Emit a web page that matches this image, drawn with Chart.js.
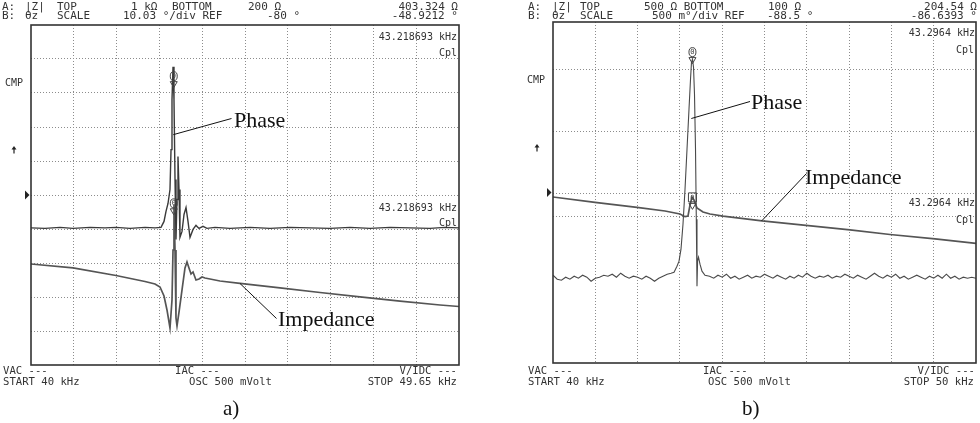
<!DOCTYPE html>
<html>
<head>
<meta charset="utf-8">
<script src="https://cdn.jsdelivr.net/npm/chart.js@4.4.1/dist/chart.umd.min.js"></script>
<style>
  body { margin: 0; background: #fff; }
  #screen { position: relative; width: 980px; height: 423px; overflow: hidden; }
  canvas { position: absolute; top: 0; }
  .h, .f, .r { position: absolute; font-family: "DejaVu Sans Mono", monospace; color: #333; white-space: pre; }
  .h { font-size: 11px; line-height: 11px; }
  .f { font-size: 10.6px; line-height: 10.6px; }
  .r { font-size: 10px; line-height: 10px; }
  .lbl { position: absolute; font-family: "Liberation Serif", serif; font-size: 22px; line-height: 22px; color: #111; white-space: pre; }
  .cap { position: absolute; font-family: "Liberation Serif", serif; font-size: 21px; line-height: 21px; color: #111; }
</style>
</head>
<body>
<div id="screen">
  <canvas id="chartA" width="490" height="423" style="left:0"></canvas>
  <canvas id="chartB" width="490" height="423" style="left:490px"></canvas>

  <!-- a) -->
  <span class="h" style="left:2px;top:1px">A:</span>
  <span class="h" style="left:25px;top:1px">|Z|</span>
  <span class="h" style="left:57px;top:1px">TOP</span>
  <span class="h" style="left:131px;top:1px">1 kΩ</span>
  <span class="h" style="left:172px;top:1px">BOTTOM</span>
  <span class="h" style="left:248px;top:1px">200 Ω</span>
  <span class="h" style="right:522px;top:1px">403.324 Ω</span>
  <span class="h" style="left:2px;top:10px">B:</span>
  <span class="h" style="left:25px;top:10px">θz</span>
  <span class="h" style="left:57px;top:10px">SCALE</span>
  <span class="h" style="left:123px;top:10px">10.03 °/div REF</span>
  <span class="h" style="left:267px;top:10px">-80 °</span>
  <span class="h" style="right:522px;top:10px">-48.9212 °</span>
  <span class="r" style="right:523px;top:32px">43.218693 kHz</span>
  <span class="r" style="right:523px;top:48px">Cpl</span>
  <span class="r" style="right:523px;top:203px">43.218693 kHz</span>
  <span class="r" style="right:523px;top:218px">Cpl</span>
  <span class="r" style="left:5px;top:78px">CMP</span>
  <span class="f" style="left:3px;top:365px">VAC ---</span>
  <span class="f" style="left:3px;top:376px">START 40 kHz</span>
  <span class="f" style="left:175px;top:365px">IAC ---</span>
  <span class="f" style="left:189px;top:376px">OSC 500 mVolt</span>
  <span class="f" style="right:523px;top:365px">V/IDC ---</span>
  <span class="f" style="right:523px;top:376px">STOP 49.65 kHz</span>
  <span class="lbl" style="left:234px;top:109px">Phase</span>
  <span class="lbl" style="left:278px;top:308px">Impedance</span>
  <span class="cap" style="left:223px;top:398px">a)</span>

  <!-- b) -->
  <span class="h" style="left:528px;top:1px">A:</span>
  <span class="h" style="left:552px;top:1px">|Z|</span>
  <span class="h" style="left:580px;top:1px">TOP</span>
  <span class="h" style="left:644px;top:1px">500 Ω BOTTOM</span>
  <span class="h" style="left:768px;top:1px">100 Ω</span>
  <span class="h" style="right:3px;top:1px">204.54 Ω</span>
  <span class="h" style="left:528px;top:10px">B:</span>
  <span class="h" style="left:552px;top:10px">θz</span>
  <span class="h" style="left:580px;top:10px">SCALE</span>
  <span class="h" style="left:652px;top:10px">500 m°/div REF</span>
  <span class="h" style="left:767px;top:10px">-88.5 °</span>
  <span class="h" style="right:3px;top:10px">-86.6393 °</span>
  <span class="r" style="right:5px;top:28px">43.2964 kHz</span>
  <span class="r" style="right:6px;top:45px">Cpl</span>
  <span class="r" style="right:5px;top:198px">43.2964 kHz</span>
  <span class="r" style="right:6px;top:215px">Cpl</span>
  <span class="r" style="left:527px;top:75px">CMP</span>
  <span class="f" style="left:528px;top:365px">VAC ---</span>
  <span class="f" style="left:528px;top:376px">START 40 kHz</span>
  <span class="f" style="left:703px;top:365px">IAC ---</span>
  <span class="f" style="left:708px;top:376px">OSC 500 mVolt</span>
  <span class="f" style="right:5px;top:365px">V/IDC ---</span>
  <span class="f" style="right:6px;top:376px">STOP 50 kHz</span>
  <span class="lbl" style="left:751px;top:91px">Phase</span>
  <span class="lbl" style="left:805px;top:166px">Impedance</span>
  <span class="cap" style="left:742px;top:398px">b)</span>
</div>

<script>
// a) sweep 40 - 49.65 kHz, phase (deg) and |Z| (ohm)
const freqPhaseA = [40.000, 40.316, 40.654, 40.947, 41.330, 41.668, 41.916, 42.232, 42.570, 42.796,
  42.931, 42.999, 43.044, 43.089, 43.134, 43.157, 43.179, 43.202, 43.224, 43.247,
  43.269, 43.292, 43.314, 43.337, 43.359, 43.405, 43.450, 43.495, 43.540, 43.585,
  43.653, 43.720, 43.788, 43.878, 43.968, 44.149, 44.487, 44.938, 45.389, 45.840,
  46.291, 46.742, 47.193, 47.643, 48.094, 48.545, 48.996, 49.334, 49.650]
const phaseA = [-89.71, -89.85, -89.56, -89.85, -89.56, -89.71, -89.56, -89.85, -89.56, -89.71,
  -89.56, -87.79, -84.85, -82.50, -78.38, -66.62, -51.91, -42.20, -51.91, -75.44,
  -93.09, -81.32, -68.67, -78.38, -92.50, -90.74, -85.74, -83.68, -87.79, -92.50,
  -90.15, -88.97, -89.85, -89.26, -89.85, -89.56, -89.85, -89.56, -89.85, -89.56,
  -89.71, -89.85, -89.56, -89.85, -89.56, -89.71, -89.85, -89.56, -89.71]
const freqImpA = [40.000, 40.947, 41.916, 42.570, 42.796, 42.909, 42.999, 43.066, 43.134, 43.179,
  43.202, 43.224, 43.247, 43.269, 43.292, 43.337, 43.405, 43.472, 43.517, 43.562,
  43.608, 43.653, 43.720, 43.788, 43.856, 43.923, 44.036, 44.261, 44.712, 45.614,
  46.516, 47.418, 48.320, 49.222, 49.650]
const impA = [322.6, 316.6, 305.5, 297.0, 293.5, 289.3, 277.3, 259.5, 238.3, 272.1,
  344.7, 426.6, 344.7, 249.9, 240.6, 257.0, 285.3, 316.6, 325.7, 316.6,
  307.7, 310.6, 299.1, 300.5, 303.4, 301.9, 300.5, 297.7, 294.2, 288.0,
  281.9, 276.0, 270.7, 265.7, 263.8]

// b) sweep 40 - 50 kHz
const freqPhaseB = [40.0, 40.1, 40.2, 40.3, 40.4, 40.5, 40.6, 40.7, 40.8, 40.9,
  41.0, 41.1, 41.2, 41.3, 41.4, 41.5, 41.6, 41.7, 41.8, 41.9,
  42.0, 42.1, 42.2, 42.3, 42.4, 42.5, 42.6, 42.7,
  42.790, 42.861, 42.931, 42.979, 43.026, 43.073, 43.121, 43.168, 43.215, 43.251,
  43.274, 43.298, 43.322, 43.345, 43.369, 43.388, 43.404, 43.418, 43.440, 43.475,
  43.522, 43.593,
  43.7, 43.8, 43.9, 44.0, 44.1, 44.2, 44.3, 44.4, 44.5, 44.6,
  44.7, 44.8, 44.9, 45.0, 45.1, 45.2, 45.3, 45.4, 45.5, 45.6,
  45.7, 45.8, 45.9, 46.0, 46.1, 46.2, 46.3, 46.4, 46.5, 46.6,
  46.7, 46.8, 46.9, 47.0, 47.1, 47.2, 47.3, 47.4, 47.5, 47.6,
  47.7, 47.8, 47.9, 48.0, 48.1, 48.2, 48.3, 48.4, 48.5, 48.6,
  48.7, 48.8, 48.9, 49.0, 49.1, 49.2, 49.3, 49.4, 49.5, 49.6,
  49.7, 49.8, 49.9, 50.0]
const phaseB = [-89.713, -89.771, -89.786, -89.742, -89.771, -89.727, -89.757, -89.713, -89.742, -89.801,
  -89.757, -89.742, -89.713, -89.727, -89.698, -89.742, -89.683, -89.727, -89.757, -89.727,
  -89.742, -89.771, -89.727, -89.757, -89.801, -89.757, -89.727, -89.698,
  -89.683, -89.669, -89.581, -89.507, -89.331, -88.965, -88.452, -87.865, -87.279, -86.839,
  -86.590, -86.545, -86.663, -87.059, -87.865, -88.891, -89.874, -89.507, -89.449, -89.551,
  -89.654, -89.713,
  -89.727, -89.757, -89.713, -89.742, -89.698, -89.757, -89.727, -89.771, -89.742, -89.713,
  -89.757, -89.727, -89.742, -89.698, -89.727, -89.757, -89.713, -89.742, -89.771, -89.727,
  -89.757, -89.713, -89.742, -89.683, -89.727, -89.757, -89.727, -89.742, -89.713, -89.757,
  -89.727, -89.742, -89.698, -89.727, -89.757, -89.713, -89.742, -89.771, -89.727, -89.683,
  -89.727, -89.757, -89.713, -89.742, -89.698, -89.757, -89.727, -89.771, -89.742, -89.713,
  -89.742, -89.771, -89.727, -89.757, -89.713, -89.757, -89.698, -89.757, -89.727, -89.771,
  -89.742, -89.757, -89.742, -89.757]
const freqImpB = [40.000, 40.993, 41.986, 42.648, 43.002, 43.121, 43.191, 43.239, 43.286, 43.333,
  43.404, 43.546, 43.712, 44.019, 44.941, 45.981, 47.021, 47.967, 49.031, 50.000]
const impB = [218.9, 213.5, 208.5, 204.9, 202.0, 199.5, 200.1, 210.8, 218.9, 215.9,
  207.8, 203.9, 202.0, 200.1, 195.5, 191.4, 187.4, 183.4, 179.6, 175.8]

// marker readouts
const markerA = { freq: 43.218693, imp: 403.324, phase: -48.9212 }
const markerB = { freq: 43.2964, imp: 204.54, phase: -86.6393 }

// dotted graticule (x in kHz, y in divisions from the bottom)
const colsA = [40.965, 41.93, 42.895, 43.86, 44.825, 45.79, 46.755, 47.72, 48.685]
const rowsA = [1, 2, 3, 4, 5, 6, 7, 8, 9]
const colsB = [41, 42, 43, 44, 45, 46, 47, 48, 49]
const rowsB = [4.31, 4.98, 6.80, 8.61]

function pts(xs, ys) {
  return xs.map((x, i) => ({ x: x, y: ys[i] }))
}

function gridAxis(vals, dir) {
  return {
    display: true,
    ticks: { display: false },
    grid: { color: '#8c8c8c', lineWidth: 1, drawTicks: false },
    border: { display: false, dash: [1, 2] },
    afterBuildTicks: s => { s.ticks = vals.map(v => ({ value: v })) },
    afterFit: s => { if (dir == 'x') s.height = 0; else s.width = 0 }
  }
}

function drawMarker(ctx, x, y, box) {
  ctx.beginPath()
  ctx.moveTo(x - 3.5, y - 8)
  ctx.lineTo(x + 3.5, y - 8)
  ctx.lineTo(x, y - 2)
  ctx.closePath()
  ctx.stroke()
  ctx.beginPath()
  if (box) ctx.rect(x - 4, y - 18.5, 8, 9)
  else ctx.ellipse(x, y - 13.5, 3.5, 4.5, 0, 0, Math.PI * 2)
  ctx.stroke()
  ctx.font = '7px "DejaVu Sans Mono"'
  ctx.textAlign = 'center'
  ctx.textBaseline = 'middle'
  ctx.fillText('0', x, y - 13.5)
}

const screenPlugin = {
  id: 'screen',
  afterDatasetsDraw(chart, args, o) {
    const { ctx, chartArea: a, scales } = chart
    ctx.save()
    ctx.strokeStyle = '#333'
    ctx.lineWidth = 1.6
    ctx.strokeRect(a.left, a.top, a.right - a.left, a.bottom - a.top)

    // reference level mark
    const yRef = scales.yP.getPixelForValue(o.ref)
    ctx.fillStyle = '#222'
    ctx.beginPath()
    ctx.moveTo(a.left - 6, yRef - 4.5)
    ctx.lineTo(a.left - 1.5, yRef)
    ctx.lineTo(a.left - 6, yRef + 4.5)
    ctx.fill()

    // small up arrow
    ctx.beginPath()
    ctx.moveTo(o.arrow.x, o.arrow.y - 4)
    ctx.lineTo(o.arrow.x - 2.5, o.arrow.y - 0.5)
    ctx.lineTo(o.arrow.x + 2.5, o.arrow.y - 0.5)
    ctx.closePath()
    ctx.fill()
    ctx.fillRect(o.arrow.x - 0.6, o.arrow.y - 1, 1.2, 4.5)

    // markers
    ctx.strokeStyle = '#444'
    ctx.fillStyle = '#444'
    ctx.lineWidth = 1
    const mx = scales.x.getPixelForValue(o.marker.freq)
    drawMarker(ctx, mx, scales.yP.getPixelForValue(o.marker.phase), false)
    drawMarker(ctx, mx, scales.yZ.getPixelForValue(o.marker.imp), o.boxLower)

    // leader lines to the text labels
    ctx.strokeStyle = '#111'
    ctx.lineWidth = 1
    o.leaders.forEach(l => {
      ctx.beginPath()
      ctx.moveTo(l.px, l.py)
      ctx.lineTo(scales.x.getPixelForValue(l.f), scales[l.axis].getPixelForValue(l.v))
      ctx.stroke()
    })
    ctx.restore()
  }
}

function makeChart(id, c) {
  return new Chart(document.getElementById(id), {
    type: 'line',
    data: {
      datasets: [
        { data: pts(c.fp, c.p), yAxisID: 'yP', borderColor: c.pc, borderWidth: c.pw },
        { data: pts(c.fz, c.z), yAxisID: 'yZ', borderColor: '#555', borderWidth: 1.7 }
      ]
    },
    options: {
      responsive: false,
      animation: false,
      events: [],
      layout: { padding: c.pad },
      elements: { point: { radius: 0 }, line: { tension: 0 } },
      plugins: {
        legend: { display: false },
        tooltip: { enabled: false },
        screen: c.screen
      },
      scales: {
        x: Object.assign({ type: 'linear', min: c.xmin, max: c.xmax }, gridAxis(c.cols, 'x')),
        y: Object.assign({ type: 'linear', min: 0, max: 10, position: 'left' }, gridAxis(c.rows, 'y')),
        yP: { type: 'linear', display: false, min: c.pmin, max: c.pmax },
        yZ: { type: 'logarithmic', display: false, min: c.zmin, max: c.zmax }
      }
    },
    plugins: [screenPlugin]
  })
}

makeChart('chartA', {
  fp: freqPhaseA, p: phaseA, fz: freqImpA, z: impA, pw: 1.4, pc: '#3a3a3a',
  xmin: 40, xmax: 49.65, pmin: -130.15, pmax: -29.85, zmin: 200, zmax: 1000,
  cols: colsA, rows: rowsA,
  pad: { left: 31, top: 25, right: 31, bottom: 58 },
  screen: {
    ref: -80, marker: markerA, boxLower: false, arrow: { x: 14, y: 150 },
    leaders: [
      { px: 231.5, py: 118.5, f: 43.208, v: -62.2, axis: 'yP' },
      { px: 276.5, py: 318.5, f: 44.712, v: 294.2, axis: 'yZ' }
    ]
  }
})

makeChart('chartB', {
  fp: freqPhaseB, p: phaseB, fz: freqImpB, z: impB, pw: 1.1, pc: '#4a4a4a',
  xmin: 40, xmax: 50, pmin: -91, pmax: -86, zmin: 100, zmax: 500,
  cols: colsB, rows: rowsB,
  pad: { left: 63, top: 22, right: 4, bottom: 60 },
  screen: {
    ref: -88.5, marker: markerB, boxLower: true, arrow: { x: 47, y: 148 },
    leaders: [
      { px: 260, py: 101.5, f: 43.27, v: -87.415, axis: 'yP' },
      { px: 316.5, py: 173.5, f: 44.934, v: 195.6, axis: 'yZ' }
    ]
  }
})
</script>
</body>
</html>
